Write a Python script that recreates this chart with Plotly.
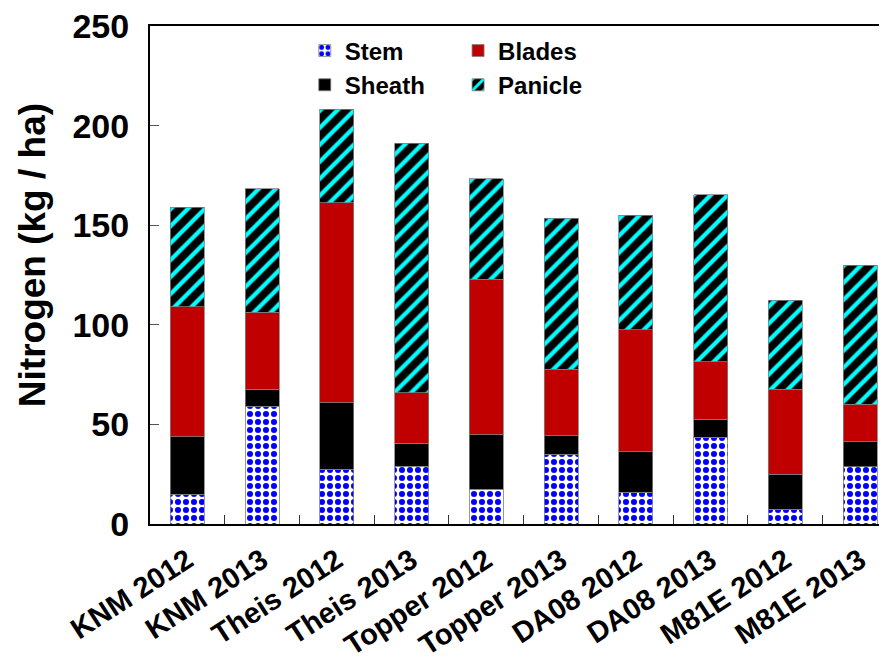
import plotly.graph_objects as go

categories = ["KNM 2012", "KNM 2013", "Theis 2012", "Theis 2013", "Topper 2012",
              "Topper 2013", "DA08 2012", "DA08 2013", "M81E 2012", "M81E 2013"]
stem = [15.0, 59.2, 27.5, 29.1, 17.4, 35.0, 15.9, 43.5, 7.5, 28.8]
sheath = [28.8, 8.4, 33.4, 11.4, 27.3, 9.3, 20.4, 9.1, 17.4, 12.5]
blades = [65.3, 38.7, 100.4, 25.4, 78.1, 33.5, 61.2, 28.9, 42.7, 18.8]
panicle = [49.9, 62.0, 46.9, 125.2, 50.4, 75.7, 57.6, 83.7, 44.8, 69.9]
y_ticks = [0, 50, 100, 150, 200, 250]

FONT = "Liberation Sans, Arial, sans-serif"
edge = dict(color="#7f7f7f", width=0.8)

fig = go.Figure()
fig.add_trace(go.Bar(
    x=categories, y=stem, name="Stem", legend="legend", legendrank=1,
    marker=dict(color="white", line=edge,
                pattern=dict(shape=".", fgcolor="#0000ff", bgcolor="white",
                             size=8, solidity=0.45, fgopacity=1))))
fig.add_trace(go.Bar(
    x=categories, y=sheath, name="Sheath", legend="legend", legendrank=2,
    marker=dict(color="black", line=edge)))
fig.add_trace(go.Bar(
    x=categories, y=blades, name="Blades", legend="legend2", legendrank=1,
    marker=dict(color="#c00000", line=edge)))
fig.add_trace(go.Bar(
    x=categories, y=panicle, name="Panicle", legend="legend2", legendrank=2,
    marker=dict(color="black", line=edge,
                pattern=dict(shape="/", fgcolor="#00ffff", bgcolor="black",
                             size=12, solidity=0.36, fgopacity=1))))

legend_common = dict(
    font=dict(family=FONT, size=24, color="black", weight="bold"),
    bgcolor="rgba(0,0,0,0)", traceorder="normal", orientation="v",
    yanchor="top", xanchor="left", itemwidth=30, tracegroupgap=0,
)

# the page adds an 8px body margin, so the figure is 8px smaller and shifted
fig.update_layout(
    width=879, height=656,
    margin=dict(l=142, r=0, t=18, b=140),
    paper_bgcolor="white", plot_bgcolor="white",
    barmode="stack", bargap=0.545,
    font=dict(family=FONT, color="black", weight="bold"),
    showlegend=True,
    legend=dict(x=0.21, y=0.995, **legend_common),
    legend2=dict(x=0.418, y=0.995, **legend_common),
    xaxis=dict(
        range=[-0.5, 9.36], tickangle=-33, automargin=False,
        tickfont=dict(family=FONT, size=29, color="black", weight="bold"),
        showline=True, linecolor="black", linewidth=2, mirror=True,
        ticks="inside", tickson="boundaries", ticklen=9, tickwidth=1,
        tickcolor="#333333", showgrid=False, zeroline=False,
        ticklabelstandoff=6, ticklabeloverflow="allow",
    ),
    yaxis=dict(
        range=[0, 250], tickvals=y_ticks, automargin=False,
        tickfont=dict(family=FONT, size=34, color="black", weight="bold"),
        showline=True, linecolor="black", linewidth=2, mirror=False,
        ticks="inside", ticklen=9, tickwidth=1, tickcolor="#555555",
        ticklabelstandoff=12, ticklabeloverflow="allow",
        showgrid=False, zeroline=False,
    ),
    annotations=[dict(
        text="Nitrogen (kg / ha)", textangle=-90, showarrow=False,
        xref="paper", yref="paper", x=-0.160, y=0.54,
        xanchor="center", yanchor="middle",
        font=dict(family=FONT, size=37, color="black", weight="bold"),
    )],
)

fig.write_html("out.html")
